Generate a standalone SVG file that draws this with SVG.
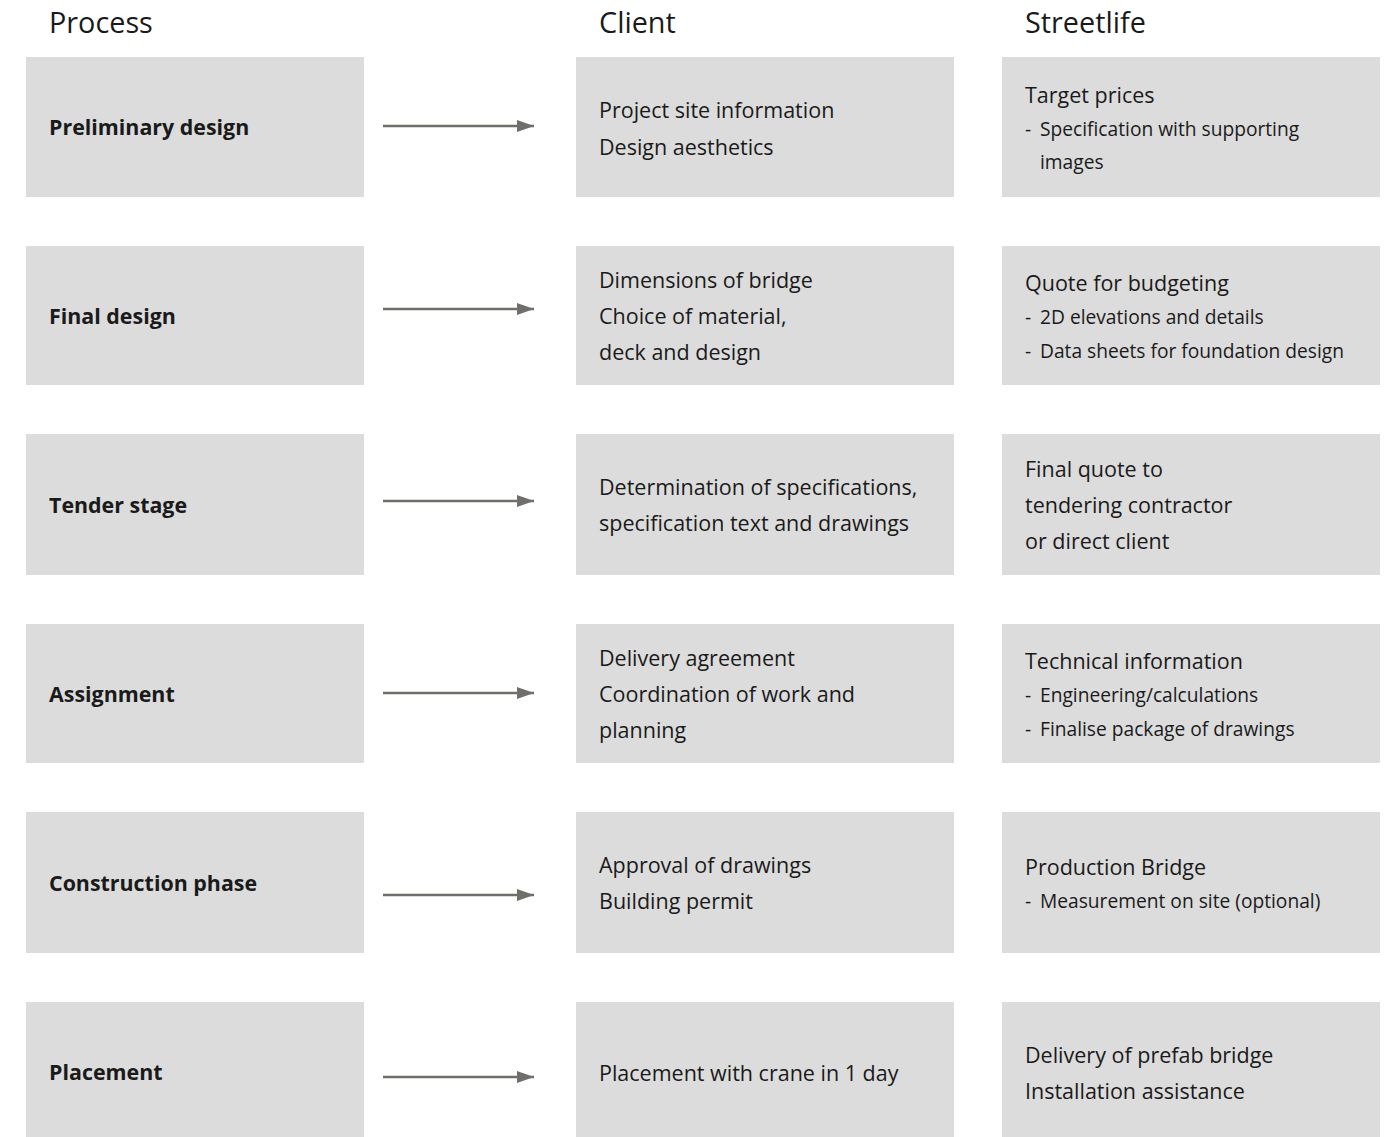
<svg xmlns="http://www.w3.org/2000/svg" width="1392" height="1137" viewBox="0 0 1392 1137">
<style>
.box{fill:#dcdcdc}
text{font-family:"Open Sans","Noto Sans",sans-serif;fill:#1a1a1a}
.h{font-size:28.8px}
.p{font-size:21.4px;font-weight:bold}
.t{font-size:21.5px}
.s{font-size:19.2px}
.arr{stroke:#6f6e68;stroke-width:2.4;fill:none}
</style>
<defs>
<marker id="ah" markerWidth="17" markerHeight="12" refX="17" refY="6" orient="auto" markerUnits="userSpaceOnUse">
<path d="M0,0 L17,6 L0,12 Z" fill="#6f6e68"/>
</marker>
</defs>
<rect width="1392" height="1137" fill="#ffffff"/>
<g id="headers">
<text class="h" x="49" y="33">Process</text>
<text class="h" x="599" y="33">Client</text>
<text class="h" x="1025" y="33">Streetlife</text>
</g>
<g id="row1">
<g id="p1"><rect class="box" x="26" y="57" width="338" height="140"/><text class="p" x="49" y="135">Preliminary design</text></g>
<g id="c1"><rect class="box" x="576" y="57" width="378" height="140"/><text class="t" x="599" y="118">Project site information</text><text class="t" x="599" y="155">Design aesthetics</text></g>
<g id="s1"><rect class="box" x="1002" y="57" width="378" height="140"/><text class="t" x="1025" y="103">Target prices</text><text class="s" x="1025" y="136">-</text><text class="s" x="1040" y="136">Specification with supporting</text><text class="s" x="1040" y="169">images</text></g>
</g>
<g id="row2">
<g id="p2"><rect class="box" x="26" y="246" width="338" height="139"/><text class="p" x="49" y="324">Final design</text></g>
<g id="c2"><rect class="box" x="576" y="246" width="378" height="139"/><text class="t" x="599" y="288">Dimensions of bridge</text><text class="t" x="599" y="324">Choice of material,</text><text class="t" x="599" y="360">deck and design</text></g>
<g id="s2"><rect class="box" x="1002" y="246" width="378" height="139"/><text class="t" x="1025" y="291">Quote for budgeting</text><text class="s" x="1025" y="324">-</text><text class="s" x="1040" y="324">2D elevations and details</text><text class="s" x="1025" y="358">-</text><text class="s" x="1040" y="358">Data sheets for foundation design</text></g>
</g>
<g id="row3">
<g id="p3"><rect class="box" x="26" y="434" width="338" height="141"/><text class="p" x="49" y="513">Tender stage</text></g>
<g id="c3"><rect class="box" x="576" y="434" width="378" height="141"/><text class="t" x="599" y="495">Determination of specifications,</text><text class="t" x="599" y="531">specification text and drawings</text></g>
<g id="s3"><rect class="box" x="1002" y="434" width="378" height="141"/><text class="t" x="1025" y="477">Final quote to</text><text class="t" x="1025" y="513">tendering contractor</text><text class="t" x="1025" y="549">or direct client</text></g>
</g>
<g id="row4">
<g id="p4"><rect class="box" x="26" y="624" width="338" height="139"/><text class="p" x="49" y="702">Assignment</text></g>
<g id="c4"><rect class="box" x="576" y="624" width="378" height="139"/><text class="t" x="599" y="666">Delivery agreement</text><text class="t" x="599" y="702">Coordination of work and</text><text class="t" x="599" y="738">planning</text></g>
<g id="s4"><rect class="box" x="1002" y="624" width="378" height="139"/><text class="t" x="1025" y="669">Technical information</text><text class="s" x="1025" y="702">-</text><text class="s" x="1040" y="702">Engineering/calculations</text><text class="s" x="1025" y="736">-</text><text class="s" x="1040" y="736">Finalise package of drawings</text></g>
</g>
<g id="row5">
<g id="p5"><rect class="box" x="26" y="812" width="338" height="141"/><text class="p" x="49" y="891">Construction phase</text></g>
<g id="c5"><rect class="box" x="576" y="812" width="378" height="141"/><text class="t" x="599" y="873">Approval of drawings</text><text class="t" x="599" y="909">Building permit</text></g>
<g id="s5"><rect class="box" x="1002" y="812" width="378" height="141"/><text class="t" x="1025" y="875">Production Bridge</text><text class="s" x="1025" y="908">-</text><text class="s" x="1040" y="908">Measurement on site (optional)</text></g>
</g>
<g id="row6">
<g id="p6"><rect class="box" x="26" y="1002" width="338" height="140"/><text class="p" x="49" y="1080">Placement</text></g>
<g id="c6"><rect class="box" x="576" y="1002" width="378" height="140"/><text class="t" x="599" y="1081">Placement with crane in 1 day</text></g>
<g id="s6"><rect class="box" x="1002" y="1002" width="378" height="140"/><text class="t" x="1025" y="1063">Delivery of prefab bridge</text><text class="t" x="1025" y="1099">Installation assistance</text></g>
</g>
<g id="connectors">
<line class="arr" x1="383" y1="126" x2="534" y2="126" marker-end="url(#ah)"/>
<line class="arr" x1="383" y1="309" x2="534" y2="309" marker-end="url(#ah)"/>
<line class="arr" x1="383" y1="501" x2="534" y2="501" marker-end="url(#ah)"/>
<line class="arr" x1="383" y1="693" x2="534" y2="693" marker-end="url(#ah)"/>
<line class="arr" x1="383" y1="895" x2="534" y2="895" marker-end="url(#ah)"/>
<line class="arr" x1="383" y1="1077" x2="534" y2="1077" marker-end="url(#ah)"/>
</g>
</svg>
